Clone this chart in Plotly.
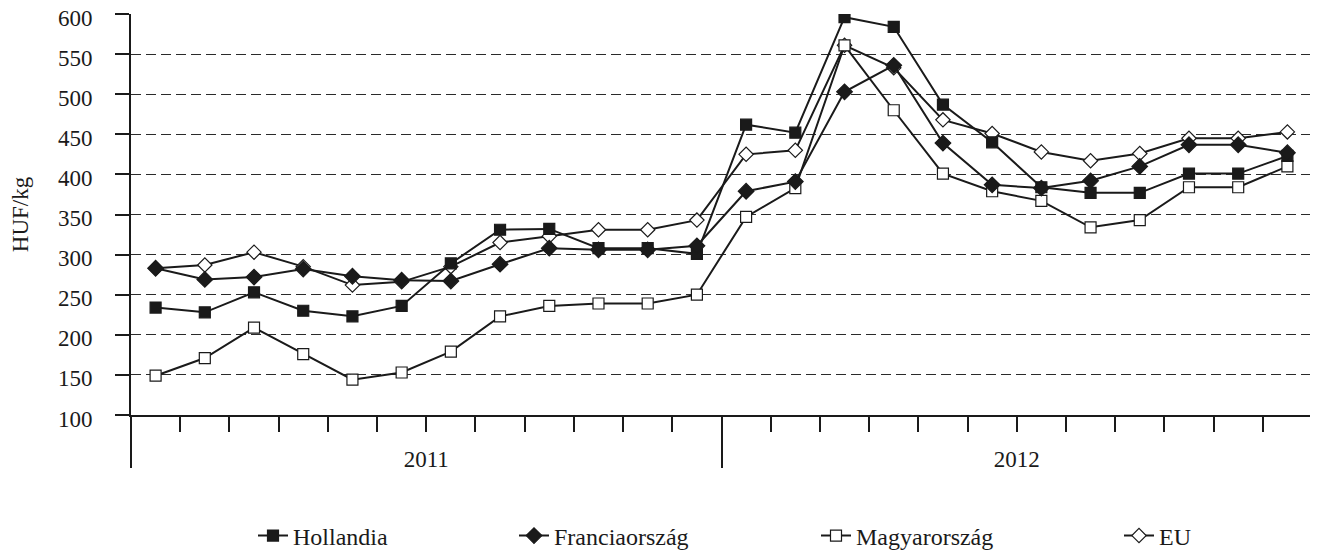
import plotly.graph_objects as go

months = list(range(24))
years = ["2011", "2012"]
year_centers = [5.5, 17.5]
year_bounds = [-0.5, 11.5, 23.5]
month_bounds = [m - 0.5 for m in range(25)]
y_ticks = list(range(100, 601, 50))

hollandia = [234, 228, 253, 230, 223, 236, 289, 331, 332, 308, 308, 301,
             462, 452, 596, 584, 487, 440, 384, 377, 377, 401, 401, 423]
francia = [283, 269, 272, 282, 273, 268, 267, 288, 308, 306, 306, 311,
           379, 391, 503, 536, 439, 387, 383, 392, 410, 437, 437, 427]
magyar = [149, 171, 209, 176, 144, 153, 179, 223, 236, 239, 239, 250,
          347, 383, 561, 480, 401, 379, 367, 334, 343, 384, 384, 410]
eu = [283, 287, 303, 285, 262, 266, 285, 315, 323, 331, 331, 343,
      425, 430, 561, 533, 468, 451, 428, 417, 426, 445, 445, 453]

FONT = "Liberation Serif"
INK = "#1a1a1a"

# page offset of the plot div (default body margin)
OFF = 8
W, H = 1310, 546
L, R, T, B = 131 - OFF, 6, 14 - OFF, 546 - (415 - OFF)
PW = W - L - R
PH = H - T - B


def px_x(p):
    # p: page pixel
    return (p - OFF - L) / PW


def px_y(p):
    return (H - B - (p - OFF)) / PH


series = [
    ("EU", eu, "diamond", "white", 11, "legend4", 1113),
    ("Magyarország", magyar, "square", "white", 11, "legend3", 810),
    ("Hollandia", hollandia, "square", INK, 11, "legend", 247),
    ("Franciaország", francia, "diamond", INK, 12, "legend2", 508),
]

fig = go.Figure()
legends = {}
for name, vals, sym, fill, size, lg, lx in series:
    fig.add_trace(go.Scatter(
        x=months, y=vals, name=name, mode="lines+markers",
        line=dict(color=INK, width=2),
        marker=dict(symbol=sym, size=size, color=fill,
                    line=dict(color=INK, width=1.2)),
        legend=lg, showlegend=True,
    ))
    legends[lg] = dict(
        x=px_x(lx + 6), y=px_y(536), xanchor="left", yanchor="middle",
        orientation="h", bgcolor="rgba(0,0,0,0)",
        font=dict(family=FONT, size=24, color=INK),
    )

# second x axis only for the long year separator ticks
fig.add_trace(go.Scatter(x=[], y=[], xaxis="x2", showlegend=False))

# y tick labels (sit slightly below their tick lines, as in the original)
for v in y_ticks:
    fig.add_annotation(
        x=0, xref="paper", y=v, yref="y", text=str(v), showarrow=False,
        xanchor="right", yanchor="middle", xshift=-36, yshift=-4,
        font=dict(family=FONT, size=23, color=INK),
    )

fig.update_layout(
    width=W, height=H,
    margin=dict(l=L, r=R, t=T, b=B, autoexpand=False),
    paper_bgcolor="white", plot_bgcolor="white",
    font=dict(family=FONT, size=23, color=INK),
    xaxis=dict(
        range=[-0.5, 23.5], showgrid=False, zeroline=False, automargin=False,
        tickmode="array", tickvals=year_centers, ticktext=years,
        ticks="", ticklabelstandoff=22, ticklabeloverflow="allow",
        showline=True, linecolor=INK, linewidth=2,
        minor=dict(tickmode="array", tickvals=month_bounds, ticks="outside",
                   ticklen=15, tickwidth=2, tickcolor=INK, showgrid=False),
    ),
    xaxis2=dict(
        range=[-0.5, 23.5], overlaying="x", side="bottom", anchor="y",
        automargin=False,
        tickmode="array", tickvals=year_bounds, ticktext=["", "", ""],
        ticks="outside", ticklen=52, tickwidth=2, tickcolor=INK,
        showgrid=False, zeroline=False, showline=False,
    ),
    yaxis=dict(
        range=[100, 600], tickmode="array", tickvals=y_ticks,
        automargin=False, showticklabels=False,
        ticks="outside", ticklen=14, tickwidth=2, tickcolor=INK,
        showline=True, linecolor=INK, linewidth=2,
        showgrid=True, gridcolor="#2a2a2a", gridwidth=1, griddash="10px,5px",
        zeroline=False,
        title=dict(text="HUF/kg", font=dict(family=FONT, size=23, color=INK),
                   standoff=91),
    ),
    **legends,
)

fig.write_html("out.html")
